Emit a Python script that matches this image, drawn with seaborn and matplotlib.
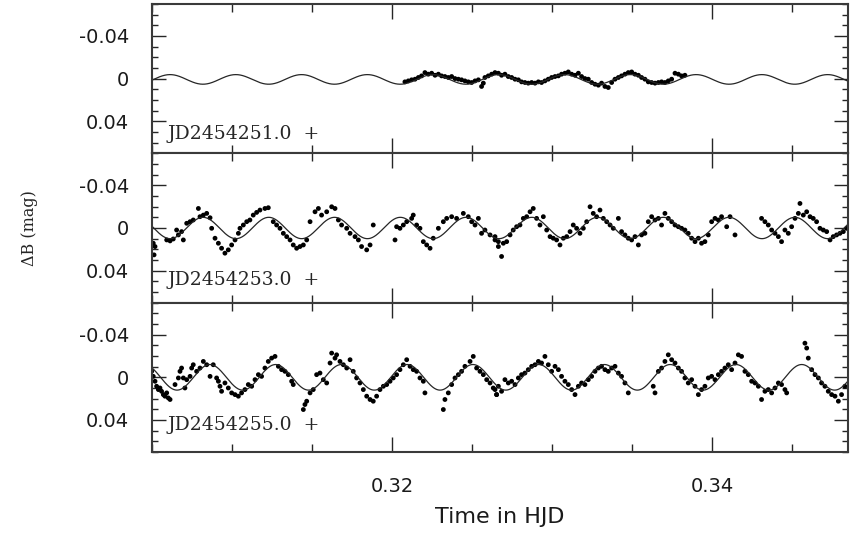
"""
B-band light curves of a pulsating star on three nights, each with its
sinusoidal fit. Points are read off the published figure.
"""

import numpy as np
import pandas as pd
import matplotlib

matplotlib.use("Agg")
import matplotlib.pyplot as plt
from matplotlib.ticker import MultipleLocator, FuncFormatter
import seaborn as sns

# ---- night 1: JD2454251 (time = HJD fraction, dB in mmag) ----
t_night1 = [0.32081, 0.32102, 0.32123, 0.32144, 0.32165, 0.32185, 0.32206, 0.32227, 0.32248, 0.32269,
            0.32290, 0.32310, 0.32331, 0.32352, 0.32373, 0.32394, 0.32415, 0.32435, 0.32456, 0.32477,
            0.32498, 0.32519, 0.32540, 0.32560, 0.32571, 0.32581, 0.32602, 0.32623, 0.32644, 0.32665,
            0.32685, 0.32706, 0.32727, 0.32748, 0.32769, 0.32790, 0.32810, 0.32831, 0.32852, 0.32873,
            0.32894, 0.32915, 0.32935, 0.32956, 0.32977, 0.32998, 0.33019, 0.33040, 0.33060, 0.33081,
            0.33102, 0.33123, 0.33144, 0.33165, 0.33185, 0.33206, 0.33227, 0.33248, 0.33269, 0.33290,
            0.33310, 0.33331, 0.33352, 0.33373, 0.33394, 0.33415, 0.33435, 0.33456, 0.33477, 0.33498,
            0.33519, 0.33540, 0.33560, 0.33581, 0.33602, 0.33623, 0.33644, 0.33665, 0.33685, 0.33706,
            0.33727, 0.33748, 0.33769, 0.33790, 0.33810, 0.33831]
dB_night1 = [3.0, 2.1, 1.1, 0.5, -1.1, -2.6, -5.7, -4.2, -5.1, -3.2,
             -4.2, -2.6, -2.0, -1.1, -2.0, -0.1, 0.5, 1.1, 2.1, 3.0,
             3.6, 2.1, 1.1, 7.3, 4.2, -1.1, -2.6, -4.2, -5.7, -5.1,
             -3.2, -4.2, -2.0, -1.1, 0.5, 1.1, 3.0, 3.6, 4.2, 3.6,
             4.2, 3.0, 3.6, 2.1, 0.5, -1.1, -2.0, -2.6, -4.2, -5.1,
             -6.3, -4.2, -3.2, -5.1, -2.0, -0.1, 0.5, 3.6, 5.2, 6.1,
             4.2, 7.3, 8.3, 3.6, 0.5, -1.1, -2.6, -4.2, -5.7, -6.3,
             -4.2, -3.2, -1.1, 0.5, 3.0, 3.6, 4.2, 3.6, 3.0, 3.6,
             2.1, 0.5, -5.1, -4.2, -2.6, -3.2]

# ---- night 2: JD2454253 ----
t_night2 = [0.30508, 0.30513, 0.30519, 0.30592, 0.30613, 0.30633, 0.30654, 0.30665, 0.30685, 0.30696,
            0.30717, 0.30738, 0.30758, 0.30790, 0.30800, 0.30821, 0.30842, 0.30863, 0.30873, 0.30894,
            0.30915, 0.30935, 0.30956, 0.30977, 0.30998, 0.31019, 0.31040, 0.31050, 0.31071, 0.31092,
            0.31112, 0.31133, 0.31154, 0.31175, 0.31206, 0.31227, 0.31258, 0.31279, 0.31300, 0.31321,
            0.31342, 0.31363, 0.31383, 0.31404, 0.31425, 0.31446, 0.31467, 0.31488, 0.31519, 0.31540,
            0.31560, 0.31592, 0.31623, 0.31644, 0.31665, 0.31685, 0.31717, 0.31738, 0.31769, 0.31790,
            0.31810, 0.31842, 0.31863, 0.31883, 0.32019, 0.32029, 0.32050, 0.32071, 0.32092, 0.32123,
            0.32133, 0.32154, 0.32175, 0.32196, 0.32217, 0.32238, 0.32258, 0.32290, 0.32321, 0.32342,
            0.32373, 0.32404, 0.32446, 0.32477, 0.32498, 0.32519, 0.32540, 0.32560, 0.32581, 0.32613,
            0.32644, 0.32665,
            0.32644, 0.32665, 0.32685, 0.32696, 0.32717, 0.32738, 0.32758, 0.32779, 0.32800, 0.32821,
            0.32842, 0.32863, 0.32883, 0.32904, 0.32925, 0.32946, 0.32967, 0.32988, 0.33008, 0.33029,
            0.33050, 0.33071, 0.33092, 0.33113, 0.33133, 0.33154, 0.33175, 0.33196, 0.33217, 0.33238,
            0.33258, 0.33279, 0.33300, 0.33321, 0.33342, 0.33363, 0.33383, 0.33415, 0.33435, 0.33456,
            0.33477, 0.33498, 0.33519, 0.33540, 0.33560, 0.33581, 0.33602, 0.33623, 0.33644, 0.33665,
            0.33685, 0.33706, 0.33727, 0.33748, 0.33769, 0.33790, 0.33810, 0.33831, 0.33852, 0.33873,
            0.33894, 0.33915, 0.33935, 0.33956, 0.33977, 0.33998, 0.34019, 0.34040, 0.34060, 0.34092,
            0.34113, 0.34144, 0.34310, 0.34331, 0.34352, 0.34373, 0.34394, 0.34415, 0.34435, 0.34456,
            0.34477, 0.34498, 0.34519, 0.34540, 0.34550, 0.34571, 0.34592, 0.34613, 0.34633, 0.34654,
            0.34675, 0.34696, 0.34717, 0.34738, 0.34758, 0.34779, 0.34800, 0.34821, 0.34842]
dB_night2 = [14.3, 25.2, 17.4, 11.2, 12.1, 10.3, 1.9, 6.5, 3.4, 11.2,
             -4.4, -5.9, -7.5, -18.3, -10.6, -12.1, -13.7, -9.6, 0.3, 9.6,
             14.3, 19.0, 23.6, 20.5, 15.9, 11.2, 5.0, 0.3, -2.8, -5.9,
             -7.5, -12.1, -14.6, -16.8, -18.3, -19.0, -5.9, -2.8, 0.3, 5.0,
             8.1, 11.2, 15.9, 19.0, 17.4, 15.9, 11.2, -5.9, -15.2, -18.3,
             -12.1, -15.2, -19.9, -18.3, -7.5, -2.8, 0.3, 5.0, 8.1, 11.2,
             17.4, 20.5, 15.9, -2.8, 11.2, -1.2, 0.3, -2.8, -5.9, -9.0,
             -12.1, -2.8, 0.3, 12.8, 15.9, 19.0, 9.6, 0.3, -5.9, -9.0,
             -10.6, -9.0, -13.7, -10.6, -5.9, -2.8, -9.0, 5.0, 1.9, 6.5,
             11.2, 12.8,
             8.1, 17.4, 26.7, 14.3, 12.8, 6.5, 1.9, -1.2, -2.8, -9.0,
             -10.6, -15.2, -18.3, -9.0, -2.8, -10.6, 1.9, 8.1, 9.6, 11.2,
             15.9, 9.6, 8.1, 3.4, -2.8, 0.3, 5.0, 0.3, -5.9, -19.9,
             -13.7, -10.6, -16.8, -9.0, -5.9, -2.8, 0.3, -9.0, 3.4, 6.5,
             9.6, 11.2, 8.1, 15.9, 6.5, 5.0, -5.9, -10.6, -7.5, -9.0,
             -2.8, -13.7, -9.0, -5.9, -2.8, -1.2, 0.3, 1.9, 5.0, 9.6,
             12.8, 9.6, 14.3, 12.8, 6.5, -5.9, -9.0, -7.5, -10.6, -1.2,
             -10.6, 6.5, -9.0, -5.9, -2.8, 1.9, 5.0, 8.1, 12.8, 1.9,
             5.0, -1.2, -9.0, -13.7, -23.0, -12.1, -15.2, -10.6, -9.0, -5.9,
             0.3, 1.9, 3.4, 11.2, 8.1, 6.5, 5.0, 3.4, 0.3]

# ---- night 3: JD2454255 ----
t_night3 = [0.30498, 0.30508, 0.30519, 0.30529, 0.30540, 0.30550, 0.30560, 0.30571, 0.30581, 0.30592,
            0.30602, 0.30613, 0.30644, 0.30665, 0.30675, 0.30685, 0.30696, 0.30706, 0.30717, 0.30738,
            0.30748, 0.30758, 0.30779, 0.30800, 0.30821, 0.30842, 0.30863, 0.30883, 0.30904, 0.30915,
            0.30925, 0.30935, 0.30956, 0.30977, 0.30998, 0.31019, 0.31040, 0.31060, 0.31081, 0.31102,
            0.31123, 0.31144, 0.31165, 0.31185, 0.31206, 0.31227, 0.31248, 0.31269, 0.31290, 0.31310,
            0.31331, 0.31352, 0.31373, 0.31383, 0.31446, 0.31456, 0.31467, 0.31488, 0.31508, 0.31529,
            0.31550, 0.31571, 0.31592, 0.31613, 0.31623, 0.31644, 0.31654, 0.31675, 0.31696, 0.31717,
            0.31738, 0.31758, 0.31779, 0.31800, 0.31821, 0.31842, 0.31863, 0.31883, 0.31904, 0.31925,
            0.31946, 0.31967, 0.31988, 0.32008, 0.32029, 0.32050, 0.32071, 0.32092, 0.32113, 0.32133,
            0.32154, 0.32175, 0.32196, 0.32206, 0.32321, 0.32331, 0.32352, 0.32373, 0.32394, 0.32415,
            0.32435, 0.32456, 0.32488, 0.32508, 0.32529, 0.32550, 0.32571, 0.32592, 0.32613, 0.32633,
            0.32654,
            0.32644, 0.32654, 0.32665, 0.32685, 0.32706, 0.32727, 0.32748, 0.32769, 0.32790, 0.32810,
            0.32831, 0.32852, 0.32873, 0.32894, 0.32915, 0.32935, 0.32956, 0.32977, 0.32998, 0.33019,
            0.33040, 0.33060, 0.33081, 0.33102, 0.33123, 0.33144, 0.33165, 0.33185, 0.33206, 0.33227,
            0.33248, 0.33269, 0.33290, 0.33310, 0.33331, 0.33352, 0.33373, 0.33394, 0.33415, 0.33435,
            0.33456, 0.33477, 0.33633, 0.33644, 0.33665, 0.33685, 0.33706, 0.33727, 0.33748, 0.33769,
            0.33790, 0.33810, 0.33831, 0.33852, 0.33873, 0.33894, 0.33915, 0.33935, 0.33956, 0.33977,
            0.33998, 0.34019, 0.34040, 0.34060, 0.34081, 0.34102, 0.34123, 0.34144, 0.34165, 0.34185,
            0.34206, 0.34227, 0.34248, 0.34269, 0.34290, 0.34310, 0.34331, 0.34352, 0.34373, 0.34394,
            0.34415, 0.34435, 0.34456, 0.34467, 0.34581, 0.34592, 0.34602, 0.34623, 0.34644, 0.34665,
            0.34685, 0.34706, 0.34727, 0.34748, 0.34769, 0.34790, 0.34810, 0.34831]
dB_night3 = [-5.6, -0.9, 3.7, 8.4, 11.5, 10.0, 13.1, 16.2, 17.7, 14.6,
             19.3, 20.8, 6.8, 0.6, -5.6, -8.7, 0.6, 10.0, 2.2, -0.9,
             -8.7, -11.8, -5.6, -8.7, -14.9, -11.8, -0.9, -11.8, 0.6, 3.7,
             8.4, 13.1, 5.3, 10.0, 14.6, 16.2, 17.7, 14.6, 11.5, 6.8,
             8.4, 2.2, -2.5, -0.9, -8.7, -14.9, -18.0, -19.6, -10.3, -7.2,
             -5.6, -2.5, 3.7, 6.8, 30.2, 25.5, 22.4, 14.6, 11.5, -2.5,
             -4.0, 2.2, 5.3, -13.4, -22.7, -18.0, -21.1, -14.9, -11.8, -8.7,
             -16.5, -5.6, 0.6, 5.3, 11.5, 17.7, 20.8, 22.4, 17.7, 11.5,
             8.4, 6.8, 3.7, 0.6, -2.5, -7.2, -11.8, -16.5, -10.3, -7.2,
             -5.6, 0.6, 3.7, 14.6, 30.2, 20.8, 14.6, 6.8, 0.6, -2.5,
             -5.6, -10.3, -14.9, -19.6, -8.7, -5.6, -2.5, 2.2, 5.3, 10.0,
             16.2,
             11.5, 16.2, 8.4, 13.1, 2.2, 5.3, 3.7, 6.8, 0.6, -2.5,
             -4.0, -7.2, -10.3, -11.8, -14.9, -13.4, -19.6, -11.8, -5.6, -10.3,
             -7.2, -0.9, 3.7, 6.8, 11.5, 16.2, 8.4, 5.3, 6.8, 2.2,
             -0.9, -5.6, -8.7, -10.3, -7.2, -5.6, -8.7, -10.3, -4.0, -0.9,
             5.3, 14.6, 8.4, 14.6, -5.6, -8.7, -14.9, -21.1, -16.5, -13.4,
             -8.7, -5.6, 0.6, 5.3, 2.2, 8.4, 16.2, 11.5, 8.4, 0.6,
             -0.9, 2.2, -2.5, -5.6, -8.7, -11.8, -7.2, -13.4, -21.1, -19.6,
             -5.6, -2.5, 3.7, 5.3, 8.4, 20.8, 13.1, 11.5, 14.6, 10.0,
             5.3, 6.8, 11.5, 14.6, -32.0, -27.4, -18.0, -7.2, -2.5, 0.6,
             5.3, 8.4, 13.1, 16.2, 17.7, 22.4, 16.2, 8.4]

night_labels = ["JD2454251.0  +", "JD2454253.0  +", "JD2454255.0  +"]

# sinusoidal fit per night (period in days, amplitude/offset in mag)
FIT_PERIOD = 0.00411
fit_amplitude = [0.0045, 0.0100, 0.0120]
fit_offset = [0.0007, 0.0, 0.0]
fit_t_max = [0.30613, 0.30819, 0.30862]

T_MIN, T_MAX = 0.305, 0.3485
INK = "#262626"
LABEL_Y = [0.13, 0.15, 0.18]


def build_frame():
    frames = []
    for i, (t, db) in enumerate([(t_night1, dB_night1), (t_night2, dB_night2), (t_night3, dB_night3)]):
        frames.append(pd.DataFrame({"night": i, "hjd": t, "dB": np.array(db) / 1000.0}))
    return pd.concat(frames, ignore_index=True)


def y_label_fmt(v, _):
    if abs(v) < 1e-9:
        return "0"
    return f"{v:.2f}"


if __name__ == "__main__":
    df = build_frame()

    sns.set_theme(style="ticks")
    plt.rcParams["font.family"] = ["DejaVu Sans"]

    fig, axes = plt.subplots(3, 1, sharex=True, figsize=(8.5, 5.33), dpi=100)
    fig.subplots_adjust(left=0.1788, right=0.9976, top=0.9925, bottom=0.152, hspace=0)

    t_fit = np.linspace(T_MIN, T_MAX, 1500)
    for i, ax in enumerate(axes):
        fit = fit_offset[i] - fit_amplitude[i] * np.cos(2 * np.pi * (t_fit - fit_t_max[i]) / FIT_PERIOD)
        sns.lineplot(x=t_fit, y=fit, ax=ax, color=INK, linewidth=0.9,
                     estimator=None, sort=False)
        sub = df[df["night"] == i]
        sns.scatterplot(data=sub, x="hjd", y="dB", ax=ax, s=12, color="black",
                        edgecolor="none", linewidth=0, legend=False)

        ax.set_xlim(T_MIN, T_MAX)
        ax.set_ylim(0.07, -0.07)
        ax.set_xlabel("")
        ax.set_ylabel("")

        ax.xaxis.set_major_locator(MultipleLocator(0.02))
        ax.xaxis.set_minor_locator(MultipleLocator(0.005))
        ax.xaxis.set_major_formatter(FuncFormatter(lambda v, _: f"{v:.2f}"))
        ax.yaxis.set_major_locator(MultipleLocator(0.04))
        ax.yaxis.set_minor_locator(MultipleLocator(0.01))
        ax.yaxis.set_major_formatter(FuncFormatter(y_label_fmt))

        ax.tick_params(which="both", direction="in", top=True, right=True,
                       color=INK, width=1.0, labelcolor="#1a1a1a")
        ax.tick_params(axis="x", which="major", length=11)
        ax.tick_params(axis="x", which="minor", length=5.5)
        ax.tick_params(axis="y", which="major", length=10, labelsize=14, pad=16.5)
        ax.tick_params(axis="y", which="minor", length=4)

        for spine in ax.spines.values():
            spine.set_linewidth(1.5)
            spine.set_color("#3a3a3a")

        ax.text(0.023, LABEL_Y[i], night_labels[i], transform=ax.transAxes,
                family="DejaVu Serif", fontsize=13.5, color=INK, ha="left", va="center")

    axes[2].tick_params(axis="x", which="major", labelsize=14, pad=18)
    axes[2].set_xlabel("Time in HJD", fontsize=16, labelpad=8, color="#1a1a1a")
    fig.text(0.035, 0.572, "\u0394B (mag)", rotation=90, family="DejaVu Serif",
             fontsize=11.5, color=INK, ha="center", va="center")

    fig.savefig("out.png", dpi=100)
